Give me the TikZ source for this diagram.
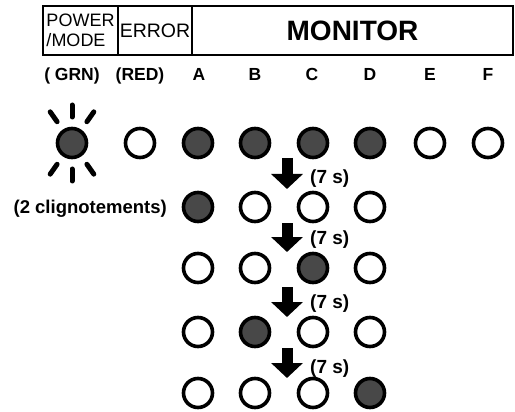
\documentclass[tikz,border=0pt]{standalone}
\usepackage{fontspec}
\setmainfont{Liberation Sans}
\usetikzlibrary{arrows.meta}
\definecolor{ledgray}{RGB}{72,72,72}
\tikzset{
  ledon/.style={circle, draw=black, fill=ledgray, line width=3.6pt, minimum size=29pt, inner sep=0pt},
  ledoff/.style={circle, draw=black, fill=white, line width=3.6pt, minimum size=29pt, inner sep=0pt},
  cell/.style={draw, line width=1.6pt, minimum height=49pt, inner sep=0pt},
  lbl/.style={font=\fontsize{17.5}{19}\selectfont\bfseries, anchor=base, inner sep=0pt},
  waitlbl/.style={font=\fontsize{19}{21}\selectfont\bfseries, anchor=base west, inner sep=0pt},
  ray/.style={line width=5pt, line cap=round},
  stepdown/.style={line width=11pt, -{Triangle[width=31pt,length=15pt]}}
}
\begin{document}
\begin{tikzpicture}[x=1pt,y=-1pt]
\useasboundingbox (0,0) rectangle (515,412);
\node[cell, minimum width=75pt, align=left, font=\fontsize{18}{20}\selectfont] (pm) at (80.5,30.5) {POWER\\/MODE};
\node[cell, minimum width=74pt, font=\fontsize{19.5}{21}\selectfont] (err) at (155,30.5) {ERROR};
\node[cell, minimum width=321pt, font=\fontsize{28}{30}\selectfont\bfseries] (mon) at (352.5,30.5) {MONITOR};

\node[lbl] (grn) at (72,81) {( GRN)};
\node[lbl] (red) at (140,81) {(RED)};
\node[lbl] (la) at (199,81) {A};
\node[lbl] (lb) at (255,81) {B};
\node[lbl] (lc) at (312,81) {C};
\node[lbl] (ld) at (370,81) {D};
\node[lbl] (le) at (430,81) {E};
\node[lbl] (lf) at (488,81) {F};

\node[ledon] (pw) at (72,143) {};
\node[ledoff] (er) at (140,143) {};
\node[ledon] (a1) at (198,143) {};
\node[ledon] (b1) at (255,143) {};
\node[ledon] (c1) at (313,143) {};
\node[ledon] (d1) at (370,143) {};
\node[ledoff] (e1) at (430,143) {};
\node[ledoff] (f1) at (488,143) {};
\foreach \a in {55,90,125,235,270,305}
  \draw[ray] ([shift={(\a:26)}]pw.center) -- ([shift={(\a:38)}]pw.center);

\node[font=\fontsize{18.5}{20}\selectfont\bfseries, anchor=base east, inner sep=0pt] (blink) at (167,214) {(2 clignotements)};
\node[ledon] (a2) at (198,207) {};
\node[ledoff] (b2) at (255,207) {};
\node[ledoff] (c2) at (313,207) {};
\node[ledoff] (d2) at (370,207) {};

\node[ledoff] (a3) at (198,268) {};
\node[ledoff] (b3) at (255,268) {};
\node[ledon] (c3) at (313,268) {};
\node[ledoff] (d3) at (370,268) {};

\node[ledoff] (a4) at (198,332) {};
\node[ledon] (b4) at (255,332) {};
\node[ledoff] (c4) at (313,332) {};
\node[ledoff] (d4) at (370,332) {};

\node[ledoff] (a5) at (198,393) {};
\node[ledoff] (b5) at (255,393) {};
\node[ledoff] (c5) at (313,393) {};
\node[ledon] (d5) at (370,393) {};

\coordinate (s1) at (287,158);
\coordinate (t1) at (287,189);
\coordinate (s2) at (287,223);
\coordinate (t2) at (287,252);
\coordinate (s3) at (287,287);
\coordinate (t3) at (287,317);
\coordinate (s4) at (287,348);
\coordinate (t4) at (287,378);
\draw[stepdown] (s1) -- (t1);
\draw[stepdown] (s2) -- (t2);
\draw[stepdown] (s3) -- (t3);
\draw[stepdown] (s4) -- (t4);
\node[waitlbl] (w1) at (310,184) {(7 s)};
\node[waitlbl] (w2) at (310,244) {(7 s)};
\node[waitlbl] (w3) at (310,308) {(7 s)};
\node[waitlbl] (w4) at (310,373) {(7 s)};
\end{tikzpicture}
\end{document}
